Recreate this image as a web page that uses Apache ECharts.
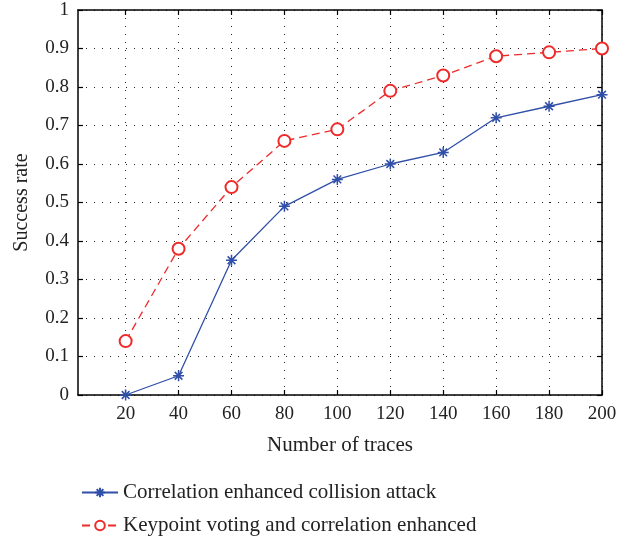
<!DOCTYPE html>
<html><head><meta charset="utf-8">
<script src="https://cdn.jsdelivr.net/npm/echarts@6/dist/echarts.min.js"></script>
<style>html,body{margin:0;padding:0;background:#fff}#c{width:637px;height:543px}</style>
</head><body><div id="c"></div>
<script>
const traces = [20, 40, 60, 80, 100, 120, 140, 160, 180, 200];
const collision = [0, 0.05, 0.35, 0.49, 0.56, 0.60, 0.63, 0.72, 0.75, 0.78];
const keypoint = [0.14, 0.38, 0.54, 0.66, 0.69, 0.79, 0.83, 0.88, 0.89, 0.90];
const xTicks = [20, 40, 60, 80, 100, 120, 140, 160, 180, 200];
const seriesNames = ['Correlation enhanced collision attack', 'Keypoint voting and correlation enhanced'];

const FONT = 'Liberation Serif';
const star = 'path://M0 5L10 5M5 0L5 10M1.5 1.5L8.5 8.5M8.5 1.5L1.5 8.5';
const gridLine = {show: true, lineStyle: {color: '#222', type: [1, 7], width: 1}};
const chart = echarts.init(document.getElementById('c'));
chart.setOption({
  animation: false,
  grid: {left: 78, right: 35, top: 10, bottom: 148, containLabel: false, outerBoundsMode: 'none'},
  legend: {
    orient: 'vertical', left: 76, top: 477, itemWidth: 36, itemHeight: 12, itemGap: 12,
    textStyle: {fontFamily: FONT, fontSize: 21, color: '#222'},
    data: seriesNames
  },
  xAxis: [{
    type: 'value', min: 2, max: 200,
    name: 'Number of traces', nameLocation: 'middle', nameGap: 40,
    nameTextStyle: {fontFamily: FONT, fontSize: 21, color: '#222'},
    axisLine: {show: true, onZero: false, lineStyle: {color: '#000', width: 1.5}},
    axisTick: {show: true, inside: true, length: 5, customValues: xTicks, lineStyle: {color: '#000', width: 1.2}},
    axisLabel: {customValues: xTicks, fontFamily: FONT, fontSize: 19, color: '#222', margin: 10},
    splitLine: gridLine
  }, {
    type: 'value', min: 2, max: 200, position: 'top',
    axisLine: {show: true, onZero: false, lineStyle: {color: '#000', width: 1.5}},
    axisTick: {show: true, inside: true, length: 5, customValues: xTicks, lineStyle: {color: '#000', width: 1.2}},
    axisLabel: {show: false}, splitLine: {show: false}
  }],
  yAxis: [{
    type: 'value', min: 0, max: 1, interval: 0.1,
    name: 'Success rate', nameLocation: 'middle', nameGap: 46,
    nameTextStyle: {fontFamily: FONT, fontSize: 20, color: '#222'},
    axisLine: {show: true, onZero: false, lineStyle: {color: '#000', width: 1.5}},
    axisTick: {show: true, inside: true, length: 5, lineStyle: {color: '#000', width: 1.2}},
    axisLabel: {fontFamily: FONT, fontSize: 19, color: '#222', margin: 9,
      formatter: v => String(Math.round(v * 10) / 10)},
    splitLine: gridLine
  }, {
    type: 'value', min: 0, max: 1, interval: 0.1, position: 'right',
    axisLine: {show: true, onZero: false, lineStyle: {color: '#000', width: 1.5}},
    axisTick: {show: true, inside: true, length: 5, lineStyle: {color: '#000', width: 1.2}},
    axisLabel: {show: false}, splitLine: {show: false}
  }],
  series: [{
    name: seriesNames[0], type: 'line',
    data: traces.map((t, i) => [t, collision[i]]),
    symbol: star, symbolSize: 11,
    lineStyle: {color: '#2f4fa8', width: 1.3},
    itemStyle: {color: '#2f4fa8', borderColor: '#2f4fa8', borderWidth: 1.5},
    z: 3
  }, {
    name: seriesNames[1], type: 'line',
    data: traces.map((t, i) => [t, keypoint[i]]),
    symbol: 'emptyCircle', symbolSize: 12,
    lineStyle: {color: '#ee2a2a', width: 1.3, type: [8, 5]},
    itemStyle: {color: '#ee2a2a', borderColor: '#ee2a2a', borderWidth: 1.3},
    z: 3
  }]
});
</script></body></html>
